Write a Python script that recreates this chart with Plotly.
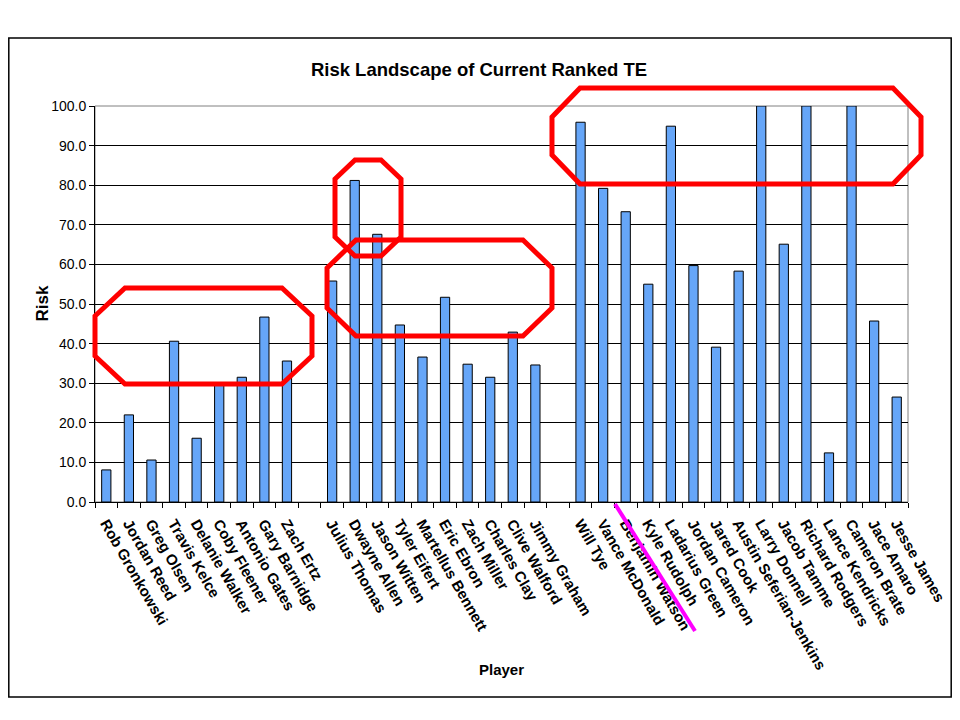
import plotly.graph_objects as go

# players in chart order; blank entries are the spacer slots between groups
players = [
    "Rob Gronkowski", "Jordan Reed", "Greg Olsen", "Travis Kelce", "Delanie Walker",
    "Coby Fleener", "Antonio Gates", "Gary Barnidge", "Zach Ertz",
    " ",
    "Julius Thomas", "Dwayne Allen", "Jason Witten", "Tyler Eifert", "Martellus Bennett",
    "Eric Ebron", "Zach Miller", "Charles Clay", "Clive Walford", "Jimmy Graham",
    "  ",
    "Will Tye", "Vance McDonald", "Benjamin Watson", "Kyle Rudolph", "Ladarius Green",
    "Jordan Cameron", "Jared Cook", "Austin Seferian-Jenkins", "Larry Donnell",
    "Jacob Tamme", "Richard Rodgers", "Lance Kendricks", "Cameron Brate",
    "Jace Amaro", "Jesse James",
]
risk = [
    8.1, 22.0, 10.6, 40.6, 16.1, 30.0, 31.5, 46.7, 35.6,
    None,
    55.8, 81.2, 67.6, 44.7, 36.6, 51.7, 34.8, 31.5, 42.9, 34.6,
    None,
    95.9, 79.2, 73.3, 55.0, 94.9, 59.7, 39.1, 58.3, 100.0,
    65.1, 100.0, 12.4, 100.0, 45.7, 26.5,
]
y_ticks = [0, 10, 20, 30, 40, 50, 60, 70, 80, 90, 100]

# the page puts the figure 8px in from the window corner
OFF = 8
W, H = 960 - 2 * OFF, 720 - 2 * OFF
# plot area in window pixels
L, R, T, B = 95, 908, 106, 502


def px(x):
    return (x - L) / (R - L)


def py(y):
    return (B - y) / (B - T)


def octagon(left, right, top, bottom, dx, dy):
    pts = [
        (left + dx, top), (right - dx, top), (right, top + dy), (right, bottom - dy),
        (right - dx, bottom), (left + dx, bottom), (left, bottom - dy), (left, top + dy),
    ]
    path = "M " + " L ".join(f"{px(a):.4f},{py(b):.4f}" for a, b in pts) + " Z"
    return dict(type="path", path=path, xref="paper", yref="paper",
                line=dict(color="#FF0000", width=5), layer="above")


# hand-drawn highlight rings (left, right, top, bottom, corner dx, corner dy)
rings = [
    (95, 312, 288, 384, 30, 28),
    (335, 401, 160, 256, 20, 19),
    (327, 552, 240, 336, 29, 28),
    (552, 921, 88, 184, 28, 29),
]

font = "Arial, Liberation Sans, sans-serif"

fig = go.Figure(go.Bar(
    x=players,
    y=risk,
    marker=dict(color="#66A6F8", line=dict(color="black", width=1)),
))

shapes = [
    # outer chart frame
    dict(type="rect", xref="paper", yref="paper",
         x0=px(OFF + 0.8), x1=px(960 - OFF - 0.8), y0=py(697), y1=py(38),
         line=dict(color="black", width=1.5), layer="below"),
    # grey plot-area border (top/right)
    dict(type="rect", xref="paper", yref="paper", x0=0, x1=1, y0=0, y1=1,
         line=dict(color="#808080", width=1), layer="between"),
]
shapes += [octagon(*r) for r in rings]
# magenta strike through Benjamin Watson
shapes.append(dict(type="line", xref="paper", yref="paper",
                   x0=px(615), y0=py(504), x1=px(695), y1=py(631),
                   line=dict(color="#FF00FF", width=4), layer="above"))

fig.update_layout(
    width=W,
    height=H,
    margin=dict(l=L - OFF, r=W - (R - OFF), t=T - OFF, b=H - (B - OFF)),
    paper_bgcolor="white",
    plot_bgcolor="white",
    bargap=0.59,
    showlegend=False,
    font=dict(family=font, color="black"),
    title=dict(
        text="<b>Risk Landscape of Current Ranked TE</b>",
        x=(479 - OFF) / W, xanchor="center",
        y=1 - (70 - OFF) / H, yanchor="middle",
        font=dict(size=18.5, family=font, color="black"),
    ),
    shapes=shapes,
    annotations=[
        dict(text="<b>Risk</b>", textangle=-90, xref="paper", yref="paper",
             x=px(30), y=py(304), showarrow=False, font=dict(size=17)),
        dict(text="<b>Player</b>", xref="paper", yref="paper",
             x=px(501), y=py(680), showarrow=False, font=dict(size=15)),
    ],
)

fig.update_xaxes(
    type="category",
    tickangle=60,
    tickson="boundaries",
    ticks="outside",
    ticklen=5,
    tickcolor="black",
    ticklabelstandoff=6,
    showline=True,
    linecolor="black",
    linewidth=1,
    showgrid=False,
    automargin=False,
    tickfont=dict(size=15, family=font, weight="bold"),
)
fig.update_yaxes(
    range=[0, 100],
    tickvals=y_ticks,
    tickformat=".1f",
    ticks="outside",
    ticklen=5,
    tickcolor="black",
    showline=True,
    linecolor="black",
    linewidth=1,
    showgrid=True,
    gridcolor="black",
    gridwidth=1,
    zeroline=False,
    automargin=False,
    tickfont=dict(size=14, family=font),
)

fig.write_html("out.html")
